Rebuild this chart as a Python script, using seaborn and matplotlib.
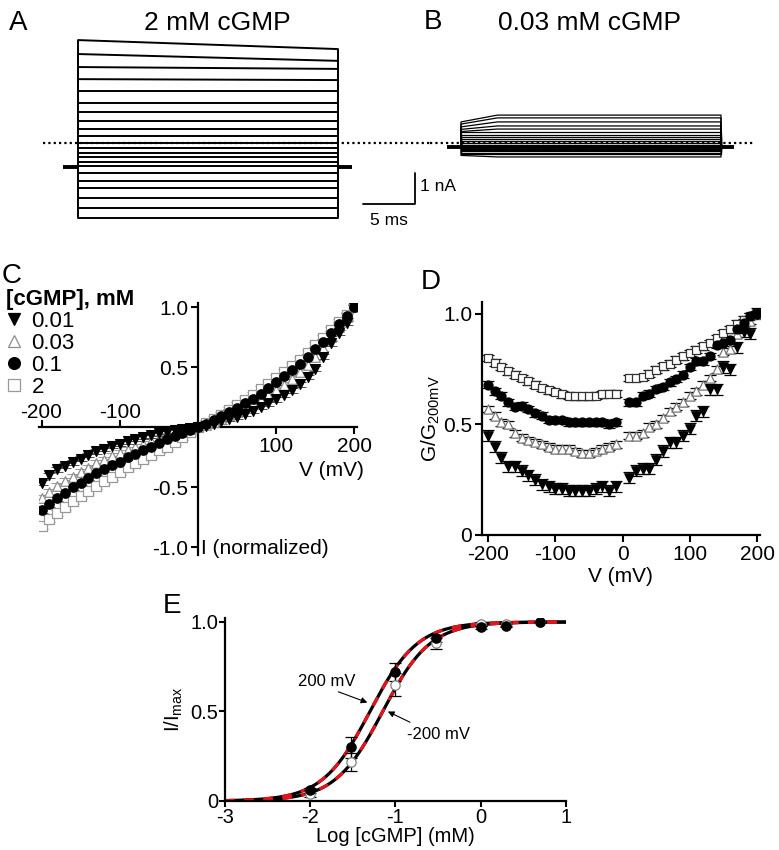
import numpy as np
import pandas as pd
import matplotlib
matplotlib.use("Agg")
import matplotlib.pyplot as plt
import seaborn as sns
from matplotlib.lines import Line2D

# ---------------- data ----------------
# Panel A (2 mM cGMP): current level of each voltage step, nA (start / end of pulse)
A_start = [3.32, 2.87, 2.45, 2.06, 1.68, 1.29, 1.00, 0.71, 0.45, 0.23, 0.00,
           -0.16, -0.32, -0.45, -0.61, -0.74, -0.97, -1.23, -1.45, -1.77, -2.10, -2.42]
A_end = [3.03, 2.65, 2.39, 2.03, 1.68, 1.29, 1.00, 0.71, 0.45, 0.23, 0.00,
         -0.16, -0.32, -0.45, -0.61, -0.74, -0.97, -1.23, -1.45, -1.77, -2.10, -2.42]
A_hold = -0.77
# Panel B (0.03 mM cGMP)
B_start = [0.68, 0.61, 0.52, 0.44, 0.37, 0.35, 0.26, 0.19, 0.13, 0.06, 0.00,
           -0.05, -0.10, -0.13, -0.16, -0.19, -0.23, -0.26, -0.31, -0.37, -0.40]
B_end = [0.90, 0.81, 0.68, 0.55, 0.45, 0.35, 0.26, 0.19, 0.13, 0.06, 0.00,
         -0.05, -0.10, -0.13, -0.16, -0.19, -0.23, -0.26, -0.31, -0.37, -0.45]
B_hold = -0.14
pulse_ms = 25.0
B_rise_ms = 3.5

# Panel C: normalized I-V relations
C_V = list(range(-200, 201, 10))
C_001 = [-0.46, -0.40, -0.35, -0.32, -0.29, -0.26, -0.23, -0.20, -0.18, -0.155, -0.135, -0.115, -0.095,
         -0.08, -0.065, -0.05, -0.035, -0.025, -0.015, -0.007, 0.0,
         0.015, 0.03, 0.05, 0.07, 0.09, 0.115, 0.14, 0.17, 0.20, 0.235, 0.27, 0.31, 0.36, 0.42,
         0.49, 0.59, 0.70, 0.79, 0.87, 1.0]
C_003 = [-0.59, -0.54, -0.49, -0.45, -0.41, -0.37, -0.34, -0.30, -0.27, -0.24, -0.21, -0.185, -0.16,
         -0.135, -0.11, -0.09, -0.07, -0.05, -0.03, -0.015, 0.0,
         0.022, 0.045, 0.07, 0.10, 0.13, 0.16, 0.195, 0.23, 0.27, 0.31, 0.355, 0.405, 0.46, 0.52,
         0.59, 0.66, 0.75, 0.84, 0.92, 1.0]
C_01 = [-0.69, -0.64, -0.59, -0.55, -0.50, -0.46, -0.42, -0.38, -0.35, -0.315, -0.285, -0.25, -0.22,
        -0.19, -0.16, -0.13, -0.10, -0.075, -0.05, -0.025, 0.0,
        0.03, 0.06, 0.095, 0.13, 0.165, 0.20, 0.24, 0.28, 0.325, 0.375, 0.425, 0.475, 0.53, 0.59,
        0.65, 0.715, 0.785, 0.86, 0.93, 1.0]
C_2 = [-0.82, -0.76, -0.71, -0.66, -0.61, -0.57, -0.53, -0.49, -0.45, -0.41, -0.37, -0.33, -0.30,
       -0.26, -0.23, -0.19, -0.16, -0.12, -0.08, -0.04, 0.0,
       0.036, 0.071, 0.107, 0.146, 0.187, 0.229, 0.271, 0.317, 0.364, 0.412, 0.461, 0.512, 0.564,
       0.623, 0.686, 0.744, 0.813, 0.877, 0.941, 1.0]
C_err = [0.02, 0.025, 0.02, 0.025]

# Panel D: G/G200mV
D_V = list(range(-200, 0, 10)) + list(range(10, 201, 10))
D_001 = [0.45, 0.40, 0.35, 0.31, 0.31, 0.29, 0.27, 0.25, 0.23, 0.22, 0.21, 0.21, 0.20, 0.20, 0.20, 0.20,
         0.21, 0.22, 0.20, 0.22,
         0.26, 0.29, 0.30, 0.30, 0.34, 0.38, 0.42, 0.42, 0.45, 0.48, 0.54, 0.56, 0.66, 0.66, 0.76, 0.75,
         0.85, 0.92, 0.91, 1.0]
D_003 = [0.57, 0.54, 0.51, 0.50, 0.46, 0.44, 0.43, 0.42, 0.41, 0.40, 0.39, 0.39, 0.39, 0.38, 0.37, 0.37,
         0.38, 0.39, 0.40, 0.41,
         0.45, 0.45, 0.46, 0.49, 0.50, 0.53, 0.56, 0.58, 0.60, 0.63, 0.65, 0.68, 0.71, 0.75, 0.83, 0.84,
         0.91, 0.94, 0.97, 1.0]
D_01 = [0.68, 0.65, 0.63, 0.60, 0.58, 0.585, 0.57, 0.55, 0.54, 0.52, 0.52, 0.52, 0.51, 0.51, 0.51, 0.51,
        0.51, 0.51, 0.50, 0.51,
        0.60, 0.60, 0.63, 0.64, 0.66, 0.67, 0.69, 0.705, 0.725, 0.76, 0.785, 0.785, 0.81, 0.86, 0.87, 0.88,
        0.93, 0.96, 0.99, 1.0]
D_2 = [0.80, 0.78, 0.76, 0.74, 0.725, 0.71, 0.695, 0.68, 0.665, 0.655, 0.647, 0.637, 0.63, 0.627, 0.627,
       0.627, 0.63, 0.637, 0.64, 0.64,
       0.71, 0.71, 0.715, 0.73, 0.748, 0.763, 0.775, 0.793, 0.808, 0.823, 0.838, 0.853, 0.868, 0.89, 0.914,
       0.93, 0.956, 0.974, 0.99, 1.0]
D_err = [0.025, 0.015, 0.015, 0.015]

series_labels = ["0.01", "0.03", "0.1", "2"]

# Panel E: dose response
E_conc = [0.01, 0.03, 0.1, 0.3, 1, 2, 5]          # mM
E_pos = [0.06, 0.30, 0.72, 0.91, 0.97, 0.98, 1.0]  # +200 mV
E_pos_err = [0.015, 0.06, 0.05, 0.02, 0.01, 0.01, 0.0]
E_neg = [0.04, 0.22, 0.65, 0.88, 0.99, 0.99, 1.0]  # -200 mV
E_neg_err = [0.02, 0.05, 0.065, 0.03, 0.01, 0.01, 0.0]
fit_logK = [-1.30, -1.15]   # +200 mV, -200 mV
fit_n = [1.55, 1.55]

# ---------------- style ----------------
sns.set_theme(style="ticks")
plt.rcParams["font.family"] = ["Liberation Sans", "DejaVu Sans"]
plt.rcParams["axes.unicode_minus"] = False
plt.rcParams["mathtext.fontset"] = "custom"
plt.rcParams["mathtext.rm"] = "Liberation Sans"
plt.rcParams["mathtext.it"] = "Liberation Sans:italic"
plt.rcParams["axes.edgecolor"] = "black"
plt.rcParams["xtick.color"] = "black"
plt.rcParams["ytick.color"] = "black"
plt.rcParams["text.color"] = "black"
plt.rcParams["axes.labelcolor"] = "black"

W, H = 779, 850
fig = plt.figure(figsize=(W / 100, H / 100), dpi=100)


def ax_px(l, t, r, b):
    return fig.add_axes([l / W, 1 - b / H, (r - l) / W, (b - t) / H])


def ftext(x, y, s, **kw):
    fig.text(x / W, 1 - y / H, s, **kw)


FS_TICK = 15
FS_LAB = 15
FS_TITLE = 19
FS_PANEL = 20

# ---------------- panels A and B ----------------
ylimAB = ((143 - 230) / 31, (143 - 30) / 31)
axA = ax_px(0, 30, 430, 230)
axA.set_xlim((0 - 78) / 10.4, (430 - 78) / 10.4)
axA.set_ylim(*ylimAB)
axA.axis("off")
for s, e in zip(A_start, A_end):
    axA.plot([0, 0, pulse_ms, pulse_ms], [A_hold, s, e, A_hold], color="black", lw=1.4)
axA.plot([-1.45, 0], [A_hold, A_hold], color="black", lw=2.8, solid_capstyle="butt")
axA.plot([pulse_ms, pulse_ms + 1.3], [A_hold, A_hold], color="black", lw=2.8, solid_capstyle="butt")
axA.plot([-3.4, axA.get_xlim()[1]], [0, 0], color="black", lw=1.6, ls=(0, (1, 1.4)))
# scale bar
axA.plot([27.4, 32.4, 32.4], [-1.96, -1.96, -0.96], color="black", lw=1.3)
axA.text(32.9, -1.4, "1 nA", ha="left", va="center", fontsize=12.5)
axA.text(29.9, -2.5, "5 ms", ha="center", va="center", fontsize=12.5)

axB = ax_px(430, 30, 779, 230)
axB.set_xlim((430 - 461) / 10.4, (779 - 461) / 10.4)
axB.set_ylim(*ylimAB)
axB.axis("off")
for s, e in zip(B_start, B_end):
    axB.plot([0, 0, B_rise_ms, pulse_ms, pulse_ms], [B_hold, s, e, e, B_hold], color="black", lw=0.9)
axB.plot([-1.35, 0], [B_hold, B_hold], color="black", lw=2.8, solid_capstyle="butt")
axB.plot([pulse_ms, pulse_ms + 1.25], [B_hold, B_hold], color="black", lw=2.8, solid_capstyle="butt")
axB.plot([axB.get_xlim()[0], 28.1], [0, 0], color="black", lw=1.6, ls=(0, (1, 1.4)))

ftext(217, 23, "2 mM cGMP", ha="center", va="center", fontsize=FS_TITLE)
ftext(590, 23, "0.03 mM cGMP", ha="center", va="center", fontsize=FS_TITLE)
ftext(18, 23, "A", ha="center", va="center", fontsize=FS_PANEL)
ftext(433, 22, "B", ha="center", va="center", fontsize=FS_PANEL)
ftext(12, 276, "C", ha="center", va="center", fontsize=FS_PANEL)
ftext(431, 282, "D", ha="center", va="center", fontsize=FS_PANEL)
ftext(172, 606, "E", ha="center", va="center", fontsize=FS_PANEL)

# marker styles per series (0.01, 0.03, 0.1, 2)
mk = ["v", "^", "o", "s"]

# ---------------- panel C ----------------
dfC = pd.DataFrame({"V": C_V * 4,
                    "I": C_001 + C_003 + C_01 + C_2,
                    "cGMP": sum([[lab] * len(C_V) for lab in series_labels], [])})
axC = ax_px(39.2, 302.7, 356.8, 554.5)
axC.set_xlim(-203, 203)
axC.set_ylim(-1.06, 1.04)
C_face = ["black", "white", "black", "white"]
C_edge = ["black", "0.55", "black", "0.6"]
C_size = [50, 48, 46, 42]
for idx in [3, 1, 2, 0]:
    lab = series_labels[idx]
    sub = dfC[dfC["cGMP"] == lab]
    axC.errorbar(sub["V"], sub["I"], yerr=C_err[idx], fmt="none",
                 ecolor="0.6" if C_face[idx] == "white" else "0.3", elinewidth=0.7, capsize=4, capthick=0.7,
                 zorder=2)
    sns.scatterplot(x=sub["V"], y=sub["I"], ax=axC, marker=mk[idx], s=C_size[idx],
                    facecolor=C_face[idx], edgecolor=C_edge[idx], linewidth=0.9, zorder=3, legend=False)
axC.set_xlabel("")
axC.set_ylabel("")
for sp in ["top", "right"]:
    axC.spines[sp].set_visible(False)
axC.spines["left"].set_position(("data", 0))
axC.spines["bottom"].set_position(("data", 0))
for sp in ["left", "bottom"]:
    axC.spines[sp].set_linewidth(1.6)
axC.set_yticks([-1.0, -0.5, 0.5, 1.0])
axC.set_yticklabels(["-1.0", "-0.5", "0.5", "1.0"])
axC.set_xticks([100, 200])
axC.set_xticklabels(["100", "200"])
axC.set_xticks([-200, -100], minor=True)
axC.tick_params(axis="both", which="major", direction="out", length=5, width=1.5,
                labelsize=FS_TICK, pad=2)
axC.tick_params(axis="x", which="minor", direction="in", length=5, width=1.5)
for v in [-200, -100]:
    axC.text(v, 0.045, str(v), ha="center", va="bottom", fontsize=FS_TICK)
axC.text(170, -0.36, "V (mV)", ha="center", va="center", fontsize=FS_LAB)
axC.text(4, -1.01, "I (normalized)", ha="left", va="center", fontsize=FS_LAB)

handles = [Line2D([], [], marker=mk[i], ls="none", mfc=C_face[i], mec=C_edge[i], ms=8.5, mew=0.9)
           for i in range(4)]
leg = fig.legend(handles, series_labels, title="[cGMP], mM", loc="upper left",
                 bbox_to_anchor=(6 / W, 1 - 289 / H), frameon=False, fontsize=16,
                 title_fontproperties={"weight": "bold", "size": 16}, alignment="left",
                 handlelength=0.7, handletextpad=0.45, labelspacing=0.04, borderpad=0,
                 borderaxespad=0)

# ---------------- panel D ----------------
dfD = pd.DataFrame({"V": D_V * 4,
                    "G": D_001 + D_003 + D_01 + D_2,
                    "cGMP": sum([[lab] * len(D_V) for lab in series_labels], [])})
axD = ax_px(482, 301.8, 759.7, 535)
D_face = ["black", "white", "black", "white"]
D_edge = ["black", "0.45", "black", "0.2"]
D_size = [46, 44, 42, 40]
for idx in [3, 1, 2, 0]:
    lab = series_labels[idx]
    sub = dfD[dfD["cGMP"] == lab]
    axD.errorbar(sub["V"], sub["G"], yerr=D_err[idx], fmt="none", ecolor="black",
                 elinewidth=0.9, capsize=4, capthick=0.9, zorder=2)
    sns.scatterplot(x=sub["V"], y=sub["G"], ax=axD, marker=mk[idx], s=D_size[idx],
                    facecolor=D_face[idx], edgecolor=D_edge[idx], linewidth=0.9, zorder=3, legend=False)
axD.set_xlim(-209, 204)
axD.set_ylim(0, 1.055)
sns.despine(ax=axD)
for sp in ["left", "bottom"]:
    axD.spines[sp].set_linewidth(1.6)
axD.set_xticks([-200, -100, 0, 100, 200])
axD.set_xticklabels(["-200", "-100", "0", "100", "200"])
axD.set_yticks([0, 0.5, 1.0])
axD.set_yticklabels(["0", "0.5", "1.0"])
axD.tick_params(direction="out", length=5, width=1.5, labelsize=FS_TICK, pad=2)
axD.set_xlabel("V (mV)", fontsize=FS_LAB, labelpad=2)
axD.set_ylabel("G/G$_{\\mathregular{200mV}}$", fontsize=FS_LAB, labelpad=1)

# ---------------- panel E ----------------
axE = ax_px(225, 618.4, 566, 801)
logc = np.log10(E_conc)
xfit = np.linspace(-3, 1, 400)
for K, n in zip(fit_logK, fit_n):
    yfit = 1 / (1 + 10 ** (n * (K - xfit)))
    sns.lineplot(x=xfit, y=yfit, ax=axE, color="black", lw=2.3, estimator=None, sort=False, zorder=2)
    axE.plot(xfit, yfit, color="#e3141b", lw=2.3, dashes=(3.0, 3.0), zorder=2.5)
axE.errorbar(logc, E_neg, yerr=E_neg_err, fmt="none", ecolor="black", elinewidth=0.9, capsize=4,
             capthick=0.9, zorder=3)
axE.errorbar(logc, E_pos, yerr=E_pos_err, fmt="none", ecolor="black", elinewidth=0.9, capsize=4,
             capthick=0.9, zorder=3)
sns.scatterplot(x=logc, y=E_neg, ax=axE, marker="o", s=45, facecolor="white", edgecolor="0.5",
                linewidth=0.9, zorder=4)
sns.scatterplot(x=logc, y=E_pos, ax=axE, marker="o", s=45, facecolor="black", edgecolor="black",
                linewidth=0.9, zorder=4)
axE.set_xlim(-3, 1)
axE.set_ylim(0, 1.02)
sns.despine(ax=axE)
for sp in ["left", "bottom"]:
    axE.spines[sp].set_linewidth(1.6)
axE.set_xticks([-3, -2, -1, 0, 1])
axE.set_xticklabels(["-3", "-2", "-1", "0", "1"])
axE.set_yticks([0, 0.5, 1.0])
axE.set_yticklabels(["0", "0.5", "1.0"])
axE.tick_params(direction="out", length=4, width=1.5, labelsize=14.5, pad=1)
axE.set_xlabel("Log [cGMP] (mM)", fontsize=14.5)
axE.xaxis.set_label_coords(0.5, -0.14)
axE.set_ylabel("I/I$_{\\mathregular{max}}$", fontsize=14.5)
axE.yaxis.set_label_coords(-0.118, 0.5)
arrow_kw = dict(arrowstyle="-|>", lw=0.8, color="black", mutation_scale=9, shrinkA=0, shrinkB=0)
axE.annotate("", xy=(-1.33, 0.55), xytext=(-1.67, 0.61), arrowprops=arrow_kw)
axE.text(-1.81, 0.665, "200 mV", ha="center", va="center", fontsize=12)
axE.annotate("", xy=(-1.09, 0.50), xytext=(-0.83, 0.44), arrowprops=arrow_kw)
axE.text(-0.50, 0.37, "-200 mV", ha="center", va="center", fontsize=12)

fig.savefig("out.png", dpi=100)
